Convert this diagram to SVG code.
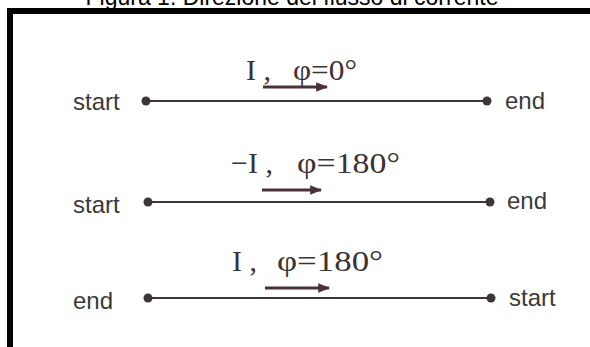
<svg xmlns="http://www.w3.org/2000/svg" width="590" height="347" viewBox="0 0 590 347">
<defs>
<style>
.sans{font-family:"Liberation Sans",Arial,sans-serif;font-size:24px;fill:#3a3a3a}
.serif{font-family:"Liberation Serif","Times New Roman",serif;font-size:30px;fill:#3a3236}
.wire{stroke:#3e3538;stroke-width:2.2;fill:none}
.dot{fill:#3e3538}
.arr{stroke:#4a3238;stroke-width:3;fill:none}
.title{font-family:"Liberation Sans",Arial,sans-serif;font-size:23px;fill:#000}
</style>
<marker id="ah" viewBox="0 0 10 10" refX="9" refY="5" markerWidth="4" markerHeight="4" orient="auto" markerUnits="strokeWidth">
<path d="M0,1 L10,5 L0,9 Z" fill="#4a3238"/>
</marker>
</defs>
<rect x="0" y="0" width="590" height="347" fill="#fff"/>
<text class="title" x="292" y="5" text-anchor="middle">Figura 1: Direzione del flusso di corrente</text>
<rect x="10" y="11" width="620" height="400" fill="none" stroke="#000" stroke-width="6"/>

<g id="connectors">
<line class="wire" x1="146" y1="101" x2="487" y2="101"/>
<line class="wire" x1="148" y1="202" x2="490" y2="202"/>
<line class="wire" x1="148" y1="298" x2="491" y2="298"/>
<line class="arr" x1="263" y1="87" x2="327" y2="87" marker-end="url(#ah)"/>
<line class="arr" x1="262" y1="190" x2="321" y2="190" marker-end="url(#ah)"/>
<line class="arr" x1="265" y1="288" x2="329" y2="288" marker-end="url(#ah)"/>
</g>

<g id="row1">
<circle class="dot" cx="146" cy="101" r="4.5"/>
<circle class="dot" cx="487" cy="101" r="4.5"/>
<text class="sans" x="73" y="110">start</text>
<text class="sans" x="505" y="109">end</text>
<text class="serif" x="246" y="80">I ,</text>
<text class="serif" x="293" y="80" textLength="64" lengthAdjust="spacingAndGlyphs">φ=0°</text>
</g>

<g id="row2">
<circle class="dot" cx="148" cy="202" r="4.5"/>
<circle class="dot" cx="490" cy="202" r="4.5"/>
<text class="sans" x="73" y="213">start</text>
<text class="sans" x="507" y="209">end</text>
<text class="serif" x="231" y="173">−I ,</text>
<text class="serif" x="297" y="173" textLength="103" lengthAdjust="spacingAndGlyphs">φ=180°</text>
</g>

<g id="row3">
<circle class="dot" cx="148" cy="298" r="4.5"/>
<circle class="dot" cx="491" cy="298" r="4.5"/>
<text class="sans" x="73" y="309">end</text>
<text class="sans" x="509" y="306">start</text>
<text class="serif" x="232" y="271">I ,</text>
<text class="serif" x="277" y="271" textLength="106" lengthAdjust="spacingAndGlyphs">φ=180°</text>
</g>
</svg>
